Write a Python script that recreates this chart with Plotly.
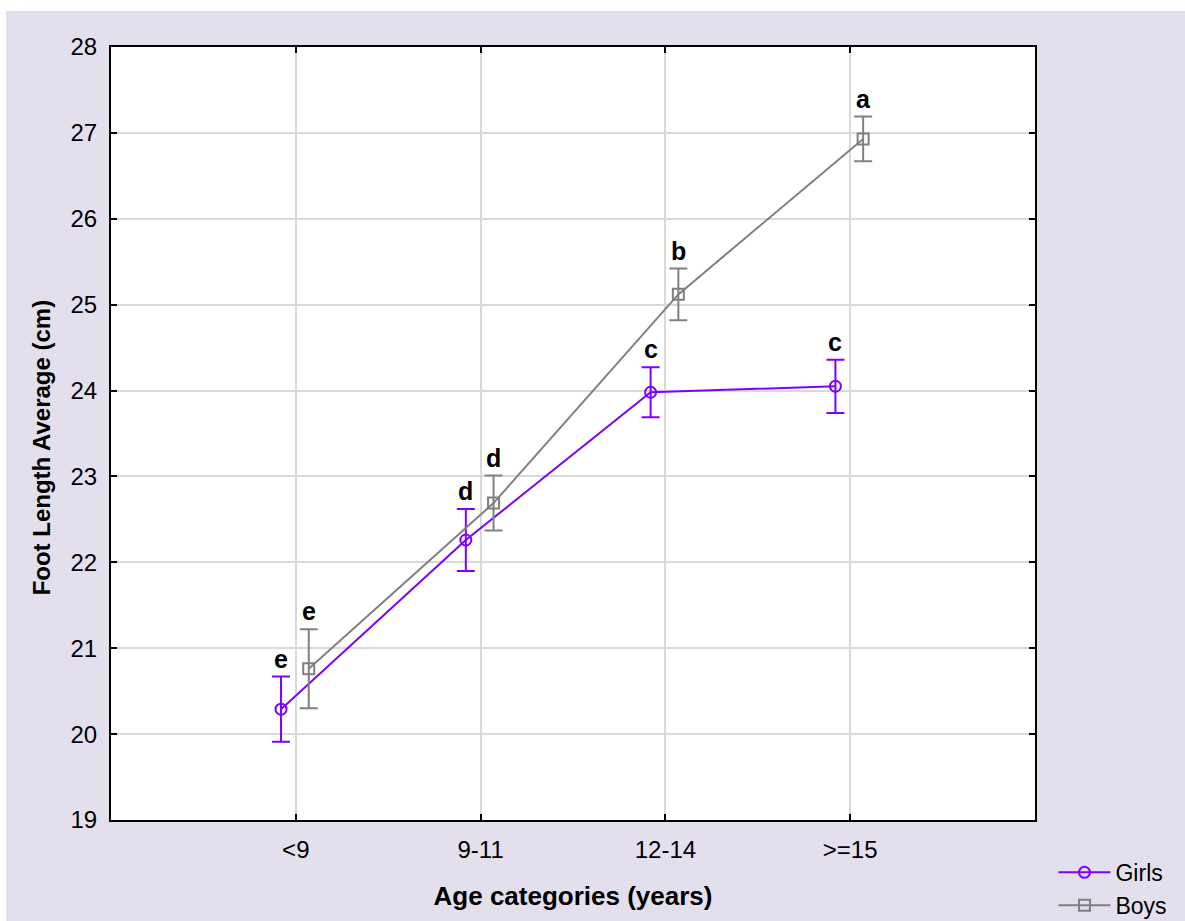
import plotly.graph_objects as go

categories = ["<9", "9-11", "12-14", ">=15"]
girls_mean = [20.29, 22.26, 23.98, 24.05]
girls_err = [0.38, 0.36, 0.29, 0.31]
girls_letters = ["e", "d", "c", "c"]
boys_mean = [20.76, 22.69, 25.12, 26.93]
boys_err = [0.46, 0.32, 0.30, 0.26]
boys_letters = ["e", "d", "b", "a"]

GIRL_COLOR = "#7F00FF"
BOY_COLOR = "#808080"
BG = "#E4DFEC"
FONT = "Liberation Sans, Arial, sans-serif"

pos = list(range(len(categories)))
girls_x = [p - 0.08 for p in pos]
boys_x = [p + 0.07 for p in pos]

fig = go.Figure()
fig.add_trace(go.Scatter(
    x=girls_x, y=girls_mean, name="Girls", mode="lines+markers",
    line=dict(color=GIRL_COLOR, width=2),
    marker=dict(symbol="circle-open", size=11, color=GIRL_COLOR, line=dict(width=2)),
    error_y=dict(type="data", array=girls_err, visible=True, color=GIRL_COLOR, thickness=2, width=9),
))
fig.add_trace(go.Scatter(
    x=boys_x, y=boys_mean, name="Boys", mode="lines+markers",
    line=dict(color=BOY_COLOR, width=2),
    marker=dict(symbol="square-open", size=11, color=BOY_COLOR, line=dict(width=2)),
    error_y=dict(type="data", array=boys_err, visible=True, color=BOY_COLOR, thickness=2, width=9),
))

for xs, ys, es, ls in [(girls_x, girls_mean, girls_err, girls_letters),
                       (boys_x, boys_mean, boys_err, boys_letters)]:
    for x, y, e, l in zip(xs, ys, es, ls):
        fig.add_annotation(x=x, y=y + e, text="<b>%s</b>" % l, showarrow=False,
                           yanchor="bottom", xanchor="center", yshift=2,
                           font=dict(size=25, color="black", family=FONT))

# y-axis title as a rotated annotation to match its placement
fig.add_annotation(xref="paper", yref="paper", x=-0.0758, y=0.482,
                   text="<b>Foot Length Average (cm)</b>", textangle=-90,
                   showarrow=False, xanchor="center", yanchor="middle",
                   font=dict(size=24, color="black", family=FONT))

axis_common = dict(
    showline=True, linecolor="black", linewidth=2, mirror="ticks",
    ticks="inside", ticklen=6, tickwidth=2, tickcolor="black",
    showgrid=True, gridcolor="#D9D9D9", gridwidth=2, zeroline=False,
    tickfont=dict(size=24, color="black", family=FONT),
    automargin=False,
)

fig.update_xaxes(
    range=[-1, 4], tickmode="array", tickvals=pos, ticktext=categories,
    title=dict(text="<b>Age categories (years)</b>", font=dict(size=26, color="black", family=FONT), standoff=25),
    ticklabelstandoff=7,
    **axis_common,
)
fig.update_yaxes(
    range=[19, 28], dtick=1,
    ticklabelstandoff=7,
    **axis_common,
)

fig.update_layout(
    width=1179, height=910,
    margin=dict(l=105, r=150, t=36, b=101, autoexpand=False),
    paper_bgcolor=BG, plot_bgcolor="white",
    font=dict(family=FONT, color="black"),
    showlegend=True,
    legend=dict(x=1.02, y=-0.04, xanchor="left", yanchor="top",
                bgcolor="rgba(0,0,0,0)", font=dict(size=23, color="black", family=FONT),
                itemwidth=52, tracegroupgap=0),
)

fig.write_html("out.html", post_script="document.body.style.margin='11px 0 0 6px';")
